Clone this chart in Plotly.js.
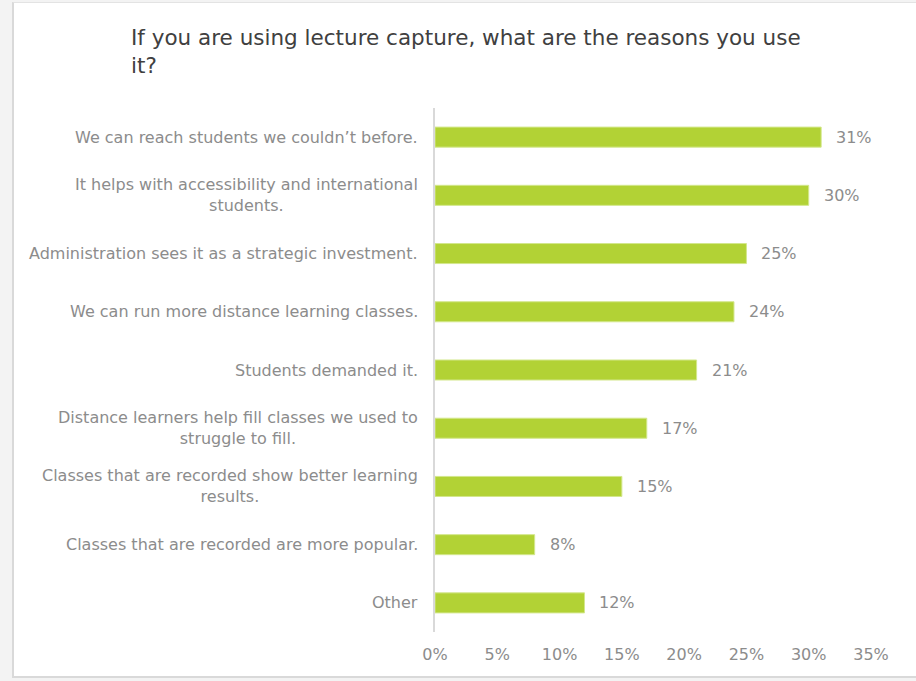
<!DOCTYPE html>
<html>
<head>
<meta charset="utf-8">
<script src="https://cdn.plot.ly/plotly-3.0.1.min.js"></script>
<style>
  html, body { margin: 0; padding: 0; background: #f3f3f3; width: 916px; height: 681px; overflow: hidden; }
  #frame { position: absolute; left: 12px; top: 2px; width: 904px; height: 676px; background: #ffffff;
           border-left: 2px solid #d9d9d9; border-top: 1px solid #e3e3e3; border-bottom: 2px solid #d9d9d9; box-sizing: border-box; }
  #chart { position: absolute; left: 0; top: 0; width: 916px; height: 681px; }
</style>
</head>
<body>
<div id="frame"></div>
<div id="chart"></div>
<script>
const categories = [
  "We can reach students we couldn\u2019t before.",
  "It helps with accessibility and international<br>students.",
  "Administration sees it as a strategic investment.",
  "We can run more distance learning classes.",
  "Students demanded it.",
  "Distance learners help fill classes we used to<br>struggle to fill.",
  "Classes that are recorded show better learning<br>results.",
  "Classes that are recorded are more popular.",
  "Other"
];
const values = [31, 30, 25, 24, 21, 17, 15, 8, 12];
const tickVals = [0, 5, 10, 15, 20, 25, 30, 35];
const tickText = ["0%", "5%", "10%", "15%", "20%", "25%", "30%", "35%"];
const titleText = "If you are using lecture capture, what are the reasons you use<br>it?";

const gray = "#8c8c8c";
const font = "DejaVu Sans, Verdana, sans-serif";
const ids = categories.map((c, i) => "c" + i);

const trace = {
  type: "bar",
  orientation: "h",
  x: values,
  y: ids,
  marker: { color: "#b2d235", line: { color: "#d3e78c", width: 1 } },
  hoverinfo: "skip"
};

const annotations = [];
categories.forEach((c, i) => {
  annotations.push({
    xref: "paper", yref: "y", x: 0, y: ids[i], xanchor: "right", yanchor: "middle",
    xshift: -15, text: c, align: "center", showarrow: false,
    font: { family: font, size: 16, color: gray }
  });
  annotations.push({
    xref: "x", yref: "y", x: values[i], y: ids[i], xanchor: "left", yanchor: "middle",
    xshift: 13, text: values[i] + "%", showarrow: false,
    font: { family: font, size: 16, color: gray }
  });
});

const layout = {
  width: 916, height: 681,
  paper_bgcolor: "rgba(0,0,0,0)", plot_bgcolor: "rgba(0,0,0,0)",
  margin: { l: 435, r: 45, t: 108, b: 49, pad: 0 },
  showlegend: false,
  bargap: 0.656,
  title: {
    text: titleText, xref: "container", yref: "container",
    x: 131 / 916, xanchor: "left", y: 1 - 45 / 681, yanchor: "top",
    font: { family: font, size: 21.5, color: "#404040" }
  },
  xaxis: {
    range: [0, 35], tickvals: tickVals, ticktext: tickText,
    showgrid: false, zeroline: false, showline: false, ticks: "",
    ticklabelstandoff: 11,
    tickfont: { family: font, size: 16, color: gray }, fixedrange: true
  },
  yaxis: {
    autorange: "reversed", categoryorder: "array", categoryarray: ids,
    showticklabels: false, ticks: "", showgrid: false, zeroline: false,
    showline: true, linecolor: "#d9d9d9", linewidth: 2, fixedrange: true
  },
  annotations: annotations
};

Plotly.newPlot("chart", [trace], layout, { displayModeBar: false, staticPlot: true });
</script>
</body>
</html>
